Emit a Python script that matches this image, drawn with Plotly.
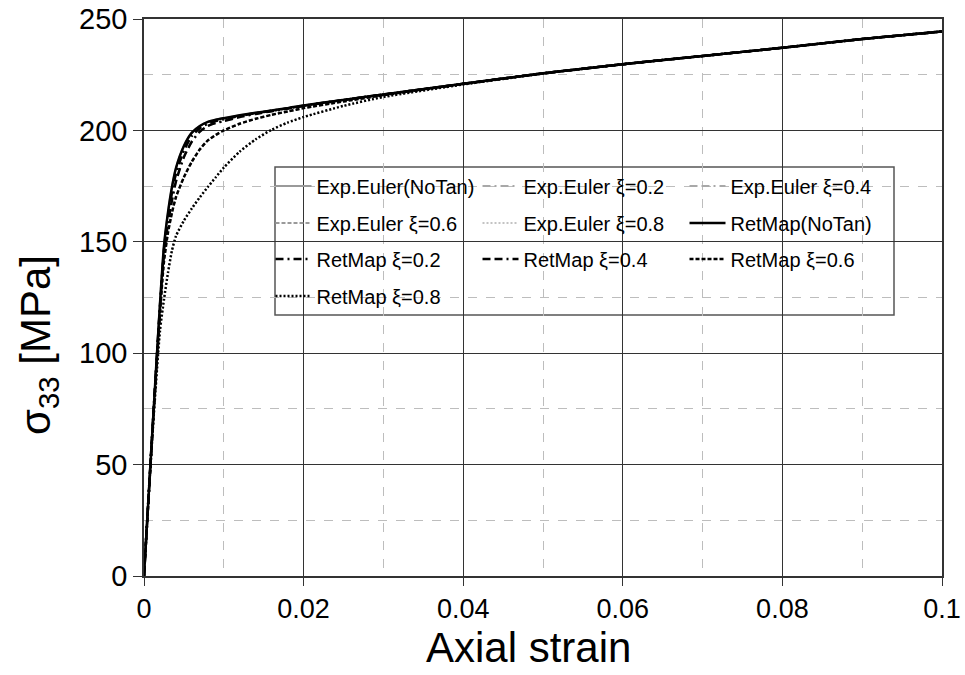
import plotly.graph_objects as go

# ---------------- data ----------------
strain = [0, 0.001, 0.002, 0.0025, 0.003, 0.0035, 0.004, 0.005, 0.006, 0.007, 0.008,
          0.009, 0.01, 0.012, 0.014, 0.016, 0.018, 0.02, 0.025, 0.03, 0.04, 0.05,
          0.06, 0.07, 0.08, 0.09, 0.1]

s_notan = [0, 62, 122, 148, 163, 174.5, 183, 193, 199, 202, 203.8, 204.8, 205.5, 206.8,
           207.9, 208.9, 210.0, 211.2, 213.7, 216.1, 220.9, 225.6, 229.7, 233.4, 237.1,
           241.0, 244.4]
s_xi02 = [0, 62, 121, 146, 161, 172, 180.5, 191, 197.5, 201, 203, 204.2, 205, 206.5,
          207.7, 208.8, 209.9, 211.1, 213.7, 216.1, 220.9, 225.6, 229.7, 233.4, 237.1,
          241.0, 244.4]
s_xi04 = [0, 62, 120, 144, 158, 168.5, 177, 188, 195, 199.5, 202, 203.3, 204.2, 206,
          207.4, 208.6, 209.8, 211, 213.6, 216.1, 220.9, 225.6, 229.7, 233.4, 237.1,
          241.0, 244.4]
s_xi06 = [0, 61, 118, 141, 154, 163, 170, 179, 186, 191.5, 195.5, 198, 200, 203,
          205.2, 207, 208.5, 210, 213, 215.8, 220.9, 225.6, 229.7, 233.4, 237.1,
          241.0, 244.4]
s_xi08 = [0, 60, 110, 124, 136, 146, 152.5, 159.5, 165, 170, 174.6, 179, 183.3, 190.5,
          196, 200.3, 203.5, 206, 211, 215, 220.6, 225.5, 229.7, 233.4, 237.1,
          241.0, 244.4]

names = ["Exp.Euler(NoTan)", "Exp.Euler ξ=0.2", "Exp.Euler ξ=0.4",
         "Exp.Euler ξ=0.6", "Exp.Euler ξ=0.8", "RetMap(NoTan)",
         "RetMap ξ=0.2", "RetMap ξ=0.4", "RetMap ξ=0.6", "RetMap ξ=0.8"]
series = [s_notan, s_xi02, s_xi04, s_xi06, s_xi08,
          s_notan, s_xi02, s_xi04, s_xi06, s_xi08]

x_ticks = [0, 0.02, 0.04, 0.06, 0.08, 0.1]
x_ticktext = ["0", "0.02", "0.04", "0.06", "0.08", "0.1"]
y_ticks = [0, 50, 100, 150, 200, 250]

x_title = "Axial strain"
y_title = "σ<sub>33</sub> [MPa]"

# ---------------- styles ----------------
dashes = ["solid", "8px,4px,2px,4px", "8px,4px,8px,4px,2px,4px", "4px,2px", "2px,2px",
          "solid", "8px,4px,2px,4px", "8px,4px,8px,4px,2px,4px", "4px,2px", "2px,2px"]
colors = ["#9a9a9a", "#a8a8a8", "#a8a8a8", "#9a9a9a", "#b0b0b0",
          "#000000", "#000000", "#000000", "#000000", "#000000"]
widths = [2, 2, 2, 2, 1.5, 2.5, 2.5, 2.5, 2.5, 2.5]
legends = ["legend", "legend", "legend", "legend2", "legend2", "legend2",
           "legend3", "legend3", "legend3", "legend4"]

FONT = "Liberation Sans, Arial, sans-serif"
L, R, T, B = 144, 23, 19, 99
PW, PH = 965 - L - R, 675 - T - B


def px_x(p):
    return (p - L) / PW


def px_y(p):
    return (675 - B - p) / PH


fig = go.Figure()
for i in range(len(names)):
    fig.add_trace(go.Scatter(
        x=strain, y=series[i], mode="lines", name=names[i],
        line=dict(color=colors[i], width=widths[i], dash=dashes[i],
                  shape="spline", smoothing=0.6),
        legend=legends[i],
    ))


def row_legend(ypix):
    return dict(orientation="h", x=px_x(270.5), xanchor="left",
                y=px_y(ypix), yanchor="middle",
                bgcolor="rgba(0,0,0,0)", borderwidth=0,
                entrywidth=156, entrywidthmode="pixels", itemwidth=36,
                font=dict(family=FONT, size=20, color="#000"))


fig.update_layout(
    width=965, height=675,
    margin=dict(l=L, r=R, t=T, b=B, autoexpand=False),
    paper_bgcolor="white", plot_bgcolor="white",
    font=dict(family=FONT, color="#000"),
    legend=row_legend(186),
    legend2=row_legend(223),
    legend3=row_legend(259),
    legend4=row_legend(296),
    shapes=[dict(type="rect", xref="paper", yref="paper",
                 x0=px_x(275), x1=px_x(894), y0=px_y(315), y1=px_y(167),
                 fillcolor="white", line=dict(color="#555", width=1.5),
                 layer="between")],
    annotations=[
        dict(text=x_title, xref="paper", yref="paper", x=px_x(528), y=px_y(647),
             xanchor="center", yanchor="middle", showarrow=False,
             font=dict(family=FONT, size=42, color="#000")),
        dict(text=y_title, xref="paper", yref="paper", x=px_x(38), y=px_y(345),
             xanchor="center", yanchor="middle", showarrow=False, textangle=-90,
             font=dict(family=FONT, size=42, color="#000")),
    ],
)

fig.update_xaxes(
    range=[0, 0.1], tickvals=x_ticks, ticktext=x_ticktext, automargin=False,
    showline=True, linecolor="#333", linewidth=1.5, mirror=True,
    showgrid=True, gridcolor="#333", gridwidth=1,
    ticks="outside", ticklen=8, tickcolor="#333",
    tickfont=dict(family=FONT, size=27, color="#000"),
    zeroline=False,
    minor=dict(dtick=0.01, showgrid=True, gridcolor="#bdbdbd", griddash="dash",
               gridwidth=1),
)
fig.update_yaxes(
    range=[0, 250], tickvals=y_ticks, automargin=False,
    showline=True, linecolor="#333", linewidth=1.5, mirror=True,
    showgrid=True, gridcolor="#333", gridwidth=1,
    ticks="outside", ticklen=9, tickcolor="#333",
    tickfont=dict(family=FONT, size=29, color="#000"),
    zeroline=False,
    minor=dict(dtick=25, showgrid=True, gridcolor="#bdbdbd", griddash="dash",
               gridwidth=1),
)

fig.write_html("out.html")
